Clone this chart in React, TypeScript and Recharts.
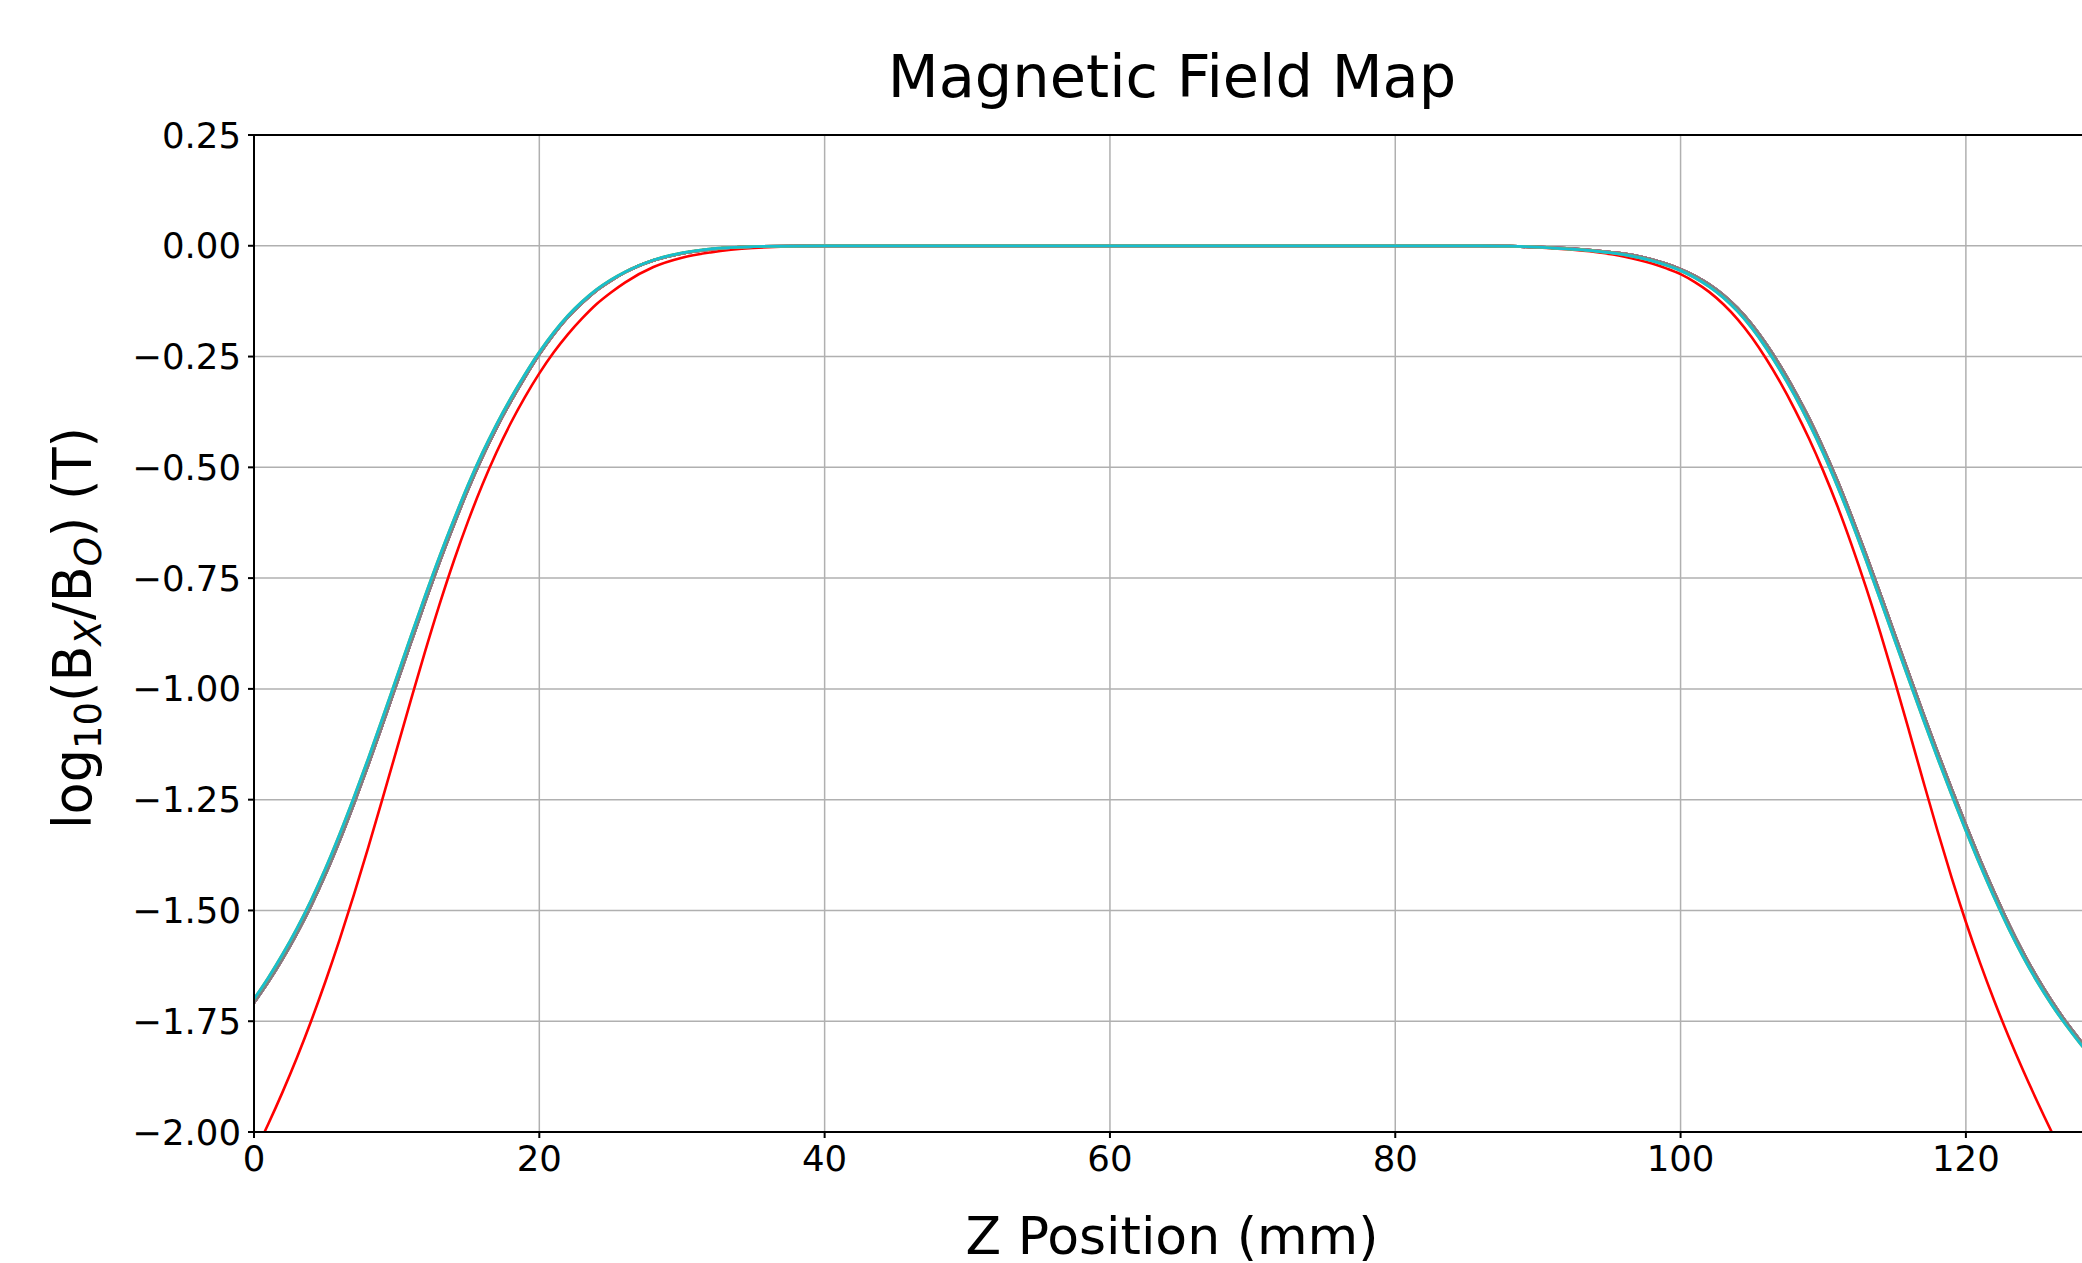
import React from 'react';
import { LineChart, Line, XAxis, YAxis, CartesianGrid, ReferenceLine } from 'recharts';

const FONT = '"DejaVu Sans", "Liberation Sans", sans-serif';

// Z positions (mm)
const zPos = [
  0, 1, 2, 3, 4, 5, 6, 7, 8, 9, 10, 11, 12, 13, 14, 15, 16, 17, 18, 19, 20, 21, 22, 23, 24, 25, 26,
  28, 30, 32, 35, 40, 50, 60, 70, 80, 86, 88, 90, 92, 94, 96, 98, 99,
  100, 101, 102, 103, 104, 105, 106, 107, 108, 109, 110, 111, 112, 113, 114, 115, 116, 117, 118, 119,
  120, 121, 122, 123, 124, 125, 126, 127, 128, 128.7,
];

// Bundle of near-identical curves (top one, drawn last)
const bundleA = [
  -1.700, -1.652, -1.599, -1.541, -1.477, -1.406, -1.328, -1.245, -1.158, -1.067, -0.974, -0.881, -0.790, -0.702,
  -0.619, -0.540, -0.468, -0.403, -0.344, -0.290, -0.240, -0.196, -0.158, -0.126, -0.099, -0.077, -0.059,
  -0.032, -0.016, -0.007, -0.002, 0, 0, 0, 0, 0, 0, -0.001, -0.003, -0.007, -0.012, -0.020, -0.034, -0.044,
  -0.056, -0.072, -0.092, -0.117, -0.148, -0.186, -0.231, -0.282, -0.338, -0.400, -0.468, -0.543, -0.624, -0.710,
  -0.799, -0.889, -0.979, -1.068, -1.155, -1.239, -1.320, -1.398, -1.472, -1.541, -1.604, -1.661, -1.712, -1.758,
  -1.800, -1.827,
];

// Slightly offset curves underneath the top one
const bundleB = [
  -1.708, -1.661, -1.609, -1.552, -1.489, -1.419, -1.342, -1.259, -1.172, -1.081, -0.988, -0.895, -0.803, -0.714,
  -0.630, -0.550, -0.477, -0.411, -0.351, -0.296, -0.245, -0.200, -0.161, -0.129, -0.101, -0.079, -0.060,
  -0.033, -0.017, -0.008, -0.002, 0, 0, 0, 0, 0, 0, -0.001, -0.003, -0.006, -0.011, -0.018, -0.031, -0.041,
  -0.053, -0.068, -0.087, -0.111, -0.141, -0.178, -0.222, -0.272, -0.328, -0.389, -0.457, -0.531, -0.612, -0.697,
  -0.786, -0.876, -0.966, -1.055, -1.142, -1.226, -1.307, -1.386, -1.460, -1.530, -1.594, -1.652, -1.704, -1.751,
  -1.793, -1.821,
];

// Red reference curve
const redCurve = [
  -2.050, -1.982, -1.910, -1.833, -1.750, -1.661, -1.566, -1.465, -1.359, -1.249, -1.137, -1.025, -0.915, -0.810,
  -0.712, -0.622, -0.540, -0.466, -0.400, -0.341, -0.288, -0.241, -0.200, -0.164, -0.132, -0.106, -0.083,
  -0.048, -0.027, -0.015, -0.005, 0, 0, 0, 0, 0, 0, -0.001, -0.004, -0.008, -0.014, -0.024, -0.040, -0.051,
  -0.064, -0.082, -0.104, -0.132, -0.166, -0.207, -0.255, -0.309, -0.369, -0.435, -0.508, -0.588, -0.676, -0.771,
  -0.873, -0.981, -1.093, -1.207, -1.319, -1.426, -1.526, -1.619, -1.705, -1.785, -1.860, -1.931, -1.999, -2.064,
  -2.126, -2.168,
];

const xTicks = [0, 20, 40, 60, 80, 100, 120];
const yTicks = [0.25, 0, -0.25, -0.5, -0.75, -1.0, -1.25, -1.5, -1.75, -2.0];

const bundleColorsB = ['#1f77b4', '#ff7f0e', '#2ca02c', '#d62728', '#9467bd', '#8c564b', '#e377c2', '#7f7f7f'];
const bundleColorsA = ['#bcbd22', '#17becf'];

const rows = zPos.map((z, i) => ({ z, red: redCurve[i], a: bundleA[i], b: bundleB[i] }));

const fmtY = (v: number) => (v < 0 ? '\u2212' : '') + Math.abs(v).toFixed(2);

export default function App() {
  return (
    <div style={{ position: 'fixed', left: 0, top: 0, width: 2082, height: 1263, overflow: 'hidden', background: '#fff' }}>
      <LineChart
        width={2120}
        height={1263}
        data={rows}
        margin={{ top: 135, right: 30, bottom: 71, left: 0 }}
        style={{ fontFamily: FONT }}
      >
        <CartesianGrid stroke="#b0b0b0" strokeWidth={1.5} horizontalValues={yTicks} verticalValues={xTicks} />
        <XAxis
          dataKey="z"
          type="number"
          domain={[0, 128.7]}
          ticks={xTicks}
          allowDataOverflow
          height={60}
          tickSize={6}
          tickMargin={8}
          tick={{ fontSize: 35.5, fill: '#000', fontFamily: FONT }}
          axisLine={{ stroke: '#000', strokeWidth: 2 }}
          tickLine={{ stroke: '#000', strokeWidth: 2 }}
        />
        <YAxis
          type="number"
          domain={[-2, 0.25]}
          ticks={yTicks}
          allowDataOverflow
          width={254}
          tickSize={6}
          tickMargin={7}
          tickFormatter={fmtY}
          tick={{ fontSize: 35.5, fill: '#000', fontFamily: FONT }}
          axisLine={{ stroke: '#000', strokeWidth: 2 }}
          tickLine={{ stroke: '#000', strokeWidth: 2 }}
        />
        <ReferenceLine y={0.25} stroke="#000" strokeWidth={2} />
        <ReferenceLine x={128.7} stroke="#000" strokeWidth={2} />
        <Line dataKey="red" stroke="#ff0000" strokeWidth={2.6} dot={false} type="monotone" isAnimationActive={false} />
        {bundleColorsB.map((c, i) => (
          <Line key={'b' + i} dataKey="b" stroke={c} strokeWidth={2.8} dot={false} type="monotone" isAnimationActive={false} />
        ))}
        {bundleColorsA.map((c, i) => (
          <Line key={'a' + i} dataKey="a" stroke={c} strokeWidth={2.8} dot={false} type="monotone" isAnimationActive={false} />
        ))}
      </LineChart>
      <svg width={2082} height={1263} style={{ position: 'absolute', left: 0, top: 0, pointerEvents: 'none' }}>
        <text x={1172} y={97} textAnchor="middle" fontSize={59} fontFamily={FONT} fill="#000">
          Magnetic Field Map
        </text>
        <text x={1172} y={1254} textAnchor="middle" fontSize={52} fontFamily={FONT} fill="#000">
          Z Position (mm)
        </text>
        <text
          x={91}
          y={628}
          transform="rotate(-90 91 628)"
          textAnchor="middle"
          fontSize={52.5}
          fontFamily={FONT}
          fill="#000"
        >
          {'log'}
          <tspan fontSize={37} dy={10}>10</tspan>
          <tspan dy={-10}>{'(B'}</tspan>
          <tspan fontSize={37} fontStyle="italic" dy={10}>X</tspan>
          <tspan dy={-10}>{'/B'}</tspan>
          <tspan fontSize={37} fontStyle="italic" dy={10}>O</tspan>
          <tspan dy={-10}>{') (T)'}</tspan>
        </text>
      </svg>
    </div>
  );
}
